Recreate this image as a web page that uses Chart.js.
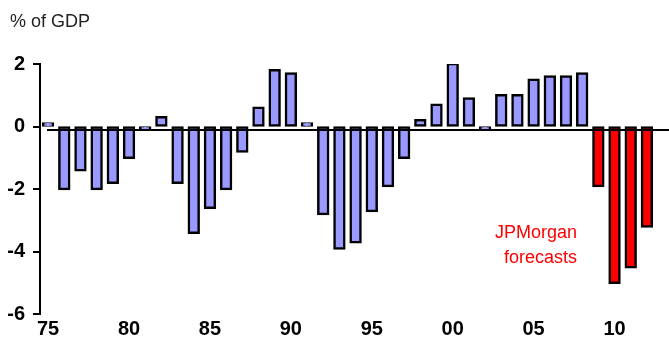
<!DOCTYPE html>
<html>
<head>
<meta charset="utf-8">
<script src="https://cdn.jsdelivr.net/npm/chart.js@4/dist/chart.umd.min.js"></script>
<style>
  html, body { margin: 0; padding: 0; background: #ffffff; }
  #wrap { width: 669px; height: 337px; position: relative; }
</style>
</head>
<body>
<div id="wrap"><canvas id="c" width="669" height="337"></canvas></div>
<script>
// Fiscal balance, % of GDP, 1975-2012 (2009 onward are forecasts)
const years = [1975, 1976, 1977, 1978, 1979, 1980, 1981, 1982, 1983, 1984,
               1985, 1986, 1987, 1988, 1989, 1990, 1991, 1992, 1993, 1994,
               1995, 1996, 1997, 1998, 1999, 2000, 2001, 2002, 2003, 2004,
               2005, 2006, 2007, 2008, 2009, 2010, 2011, 2012];
const balance = [0.1, -2.0, -1.4, -2.0, -1.8, -1.0, -0.1, 0.3, -1.8, -3.4,
                 -2.6, -2.0, -0.8, 0.6, 1.8, 1.7, 0.1, -2.8, -3.9, -3.7,
                 -2.7, -1.9, -1.0, 0.2, 0.7, 2.0, 0.9, -0.1, 1.0, 1.0,
                 1.5, 1.6, 1.6, 1.7, -1.9, -5.0, -4.5, -3.2];
const firstForecastYear = 2009;
const yTicks = [2, 0, -2, -4, -6];
const unitLabel = '% of GDP';
const forecastNote = ['JPMorgan', 'forecasts'];

const histColor = '#9999FF';
const fcstColor = '#FF0000';

const tickFont = { family: "'Liberation Sans Narrow', 'Liberation Sans', Arial, sans-serif", size: 20, weight: 'bold' };
const textFont = "18px 'Liberation Sans', Arial, sans-serif";

const decorations = {
  id: 'decorations',
  afterDatasetsDraw(chart) {
    const { ctx, scales: { y }, chartArea } = chart;
    ctx.save();
    // zero reference line
    const y0 = y.getPixelForValue(0) + 3.5;
    ctx.strokeStyle = '#000';
    ctx.lineWidth = 2;
    ctx.beginPath();
    ctx.moveTo(chartArea.left + 7, y0);
    ctx.lineTo(chart.width, y0);
    ctx.stroke();

    // unit label
    ctx.fillStyle = '#222';
    ctx.font = textFont;
    ctx.textAlign = 'left';
    ctx.textBaseline = 'middle';
    ctx.fillText(unitLabel, 10, 22);

    // forecast note
    ctx.fillStyle = fcstColor;
    ctx.textAlign = 'right';
    ctx.fillText(forecastNote[0], 577, 233);
    ctx.fillText(forecastNote[1], 577, 258);
    ctx.restore();
  }
};

new Chart(document.getElementById('c'), {
  type: 'bar',
  data: {
    labels: years.map(String),
    datasets: [{
      data: balance,
      backgroundColor: years.map(yr => yr >= firstForecastYear ? fcstColor : histColor),
      borderColor: '#000',
      borderWidth: 2.5,
      inflateAmount: 1.25,
      borderSkipped: false,
      barPercentage: 0.61,
      categoryPercentage: 1.0
    }]
  },
  options: {
    responsive: false,
    animation: false,
    devicePixelRatio: 1,
    layout: { padding: { top: 64, right: 14, left: 0, bottom: 0 } },
    plugins: { legend: { display: false }, tooltip: { enabled: false } },
    scales: {
      x: {
        grid: { display: false },
        border: { display: false },
        ticks: {
          autoSkip: false,
          maxRotation: 0,
          padding: -5,
          color: '#000',
          font: tickFont,
          callback: function (v, i) {
            const yr = years[i];
            return yr % 5 === 0 ? String(yr).slice(2) : '';
          }
        },
        afterFit(scale) { scale.height = 23; }
      },
      y: {
        min: -6,
        max: 2,
        afterBuildTicks(scale) { scale.ticks = yTicks.map(v => ({ value: v })); },
        grid: { drawOnChartArea: false, drawTicks: true, tickLength: 7, color: '#000', lineWidth: 2 },
        border: { display: true, color: '#000', width: 2 },
        ticks: { color: '#000', font: tickFont, padding: 8 },
        afterFit(scale) { scale.width = 40; }
      }
    }
  },
  plugins: [decorations]
});
</script>
</body>
</html>
